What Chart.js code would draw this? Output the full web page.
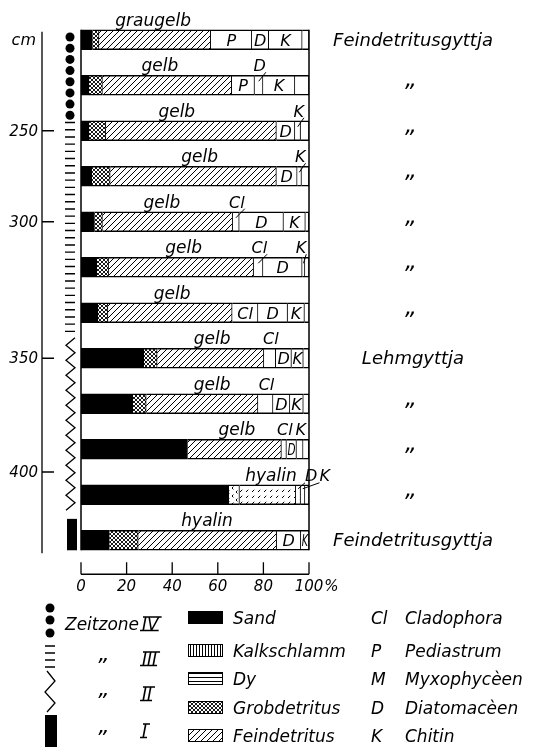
<!DOCTYPE html>
<html>
<head>
<meta charset="utf-8">
<script src="https://cdn.jsdelivr.net/npm/chart.js@4.4.1/dist/chart.umd.min.js"></script>
<style>
    html, body { margin: 0; padding: 0; background: #fff; }
    canvas { display: block; }
</style>
</head>
<body>
<canvas id="profileChart" width="538" height="747"></canvas>
<script>
// samples top to bottom, composition in %
const samples = ['Probe 1', 'Probe 2', 'Probe 3', 'Probe 4', 'Probe 5', 'Probe 6', 'Probe 7', 'Probe 8', 'Probe 9', 'Probe 10', 'Probe 11', 'Probe 12'];
const sand       = [5.0, 3.5, 3.5, 4.7, 5.9, 6.9, 7.4, 27.5, 22.7, 46.7, 64.8, 12.4];
const grob       = [2.9, 5.9, 7.4, 8.1, 3.5, 5.2, 4.4, 5.9, 5.9, 0, 4.7, 12.7];
const fein       = [49.0, 56.7, 74.8, 72.9, 57.1, 63.6, 54.5, 46.8, 49.0, 41.2, 24.7, 60.7];
const cladophora = [0, 0, 0, 0, 2.9, 4.1, 11.3, 5.2, 6.6, 2.2, 0, 0];
const pediastrum = [18.0, 10.0, 0, 0, 0, 0, 0, 0, 0, 0, 0, 0];
const diatomeen  = [7.4, 3.7, 8.1, 9.1, 19.4, 17.2, 13.0, 6.9, 7.4, 4.4, 2.1, 10.6];
const chitin     = [14.7, 14.0, 2.5, 1.9, 9.6, 1.2, 7.4, 5.2, 5.9, 2.9, 1.9, 3.6];
const rest       = [3.0, 6.2, 3.7, 3.3, 1.5, 1.8, 2.1, 2.5, 2.5, 2.5, 1.8, 0];

const tint   = ['graugelb', 'gelb', 'gelb', 'gelb', 'gelb', 'gelb', 'gelb', 'gelb', 'gelb', 'gelb', 'hyalin', 'hyalin'];
const tintAt = [31.6, 34.6, 42, 52, 35.5, 45, 40, 57.5, 57.5, 68.4, 83.3, 55.3];
const DITTO = '\u201E';
const gyttja = ['Feindetritusgyttja', DITTO, DITTO, DITTO, DITTO, DITTO, DITTO, 'Lehmgyttja', DITTO, DITTO, DITTO, 'Feindetritusgyttja'];
const faint = [10]; // hyalin sample, detritus drawn faint

const depthTicks = [250, 300, 350, 400];
const depthAt    = [2, 4, 7, 9.5];
const xTicks     = [0, 20, 40, 60, 80, 100];

// Zeitzonen along the profile, in sample rows
const zoneNames = ['IV', 'III', 'II', 'I'];
const zoneFrom  = [-0.06, 1.82, 6.55, 10.53];
const zoneTo    = [1.66, 6.45, 10.44, 11.22];

// labels written above the bar: [sample, letter, tick, shift]
const raisedLabels = [
    [1, 'D', true, 0], [2, 'K', true, 0], [3, 'K', true, 0], [4, 'Cl', true, 0],
    [5, 'Cl', true, 0], [5, 'K', true, 0], [7, 'Cl', false, 0], [8, 'Cl', false, 0],
    [9, 'Cl', false, 0], [9, 'K', false, 0], [10, 'D', false, 12], [10, 'K', false, 21]
];

const materials = ['Sand', 'Kalkschlamm', 'Dy', 'Grobdetritus', 'Feindetritus'];
const abbrevs   = ['Cl', 'P', 'M', 'D', 'K'];
const organisms = ['Cladophora', 'Pediastrum', 'Myxophycèen', 'Diatomacèen', 'Chitin'];

const canvas = document.getElementById('profileChart');
const mainCtx = canvas.getContext('2d');

function makePattern(w, h, draw) {
    const c = document.createElement('canvas');
    c.width = w;
    c.height = h;
    const g = c.getContext('2d');
    g.fillStyle = '#fff';
    g.fillRect(0, 0, w, h);
    g.strokeStyle = '#000';
    g.fillStyle = '#000';
    g.lineWidth = 1;
    draw(g, w, h);
    return mainCtx.createPattern(c, 'repeat');
}

function diagonals(g, s, up, down) {
    g.beginPath();
    if (up) {
        g.moveTo(0, s); g.lineTo(s, 0);
        g.moveTo(-s / 2, s / 2); g.lineTo(s / 2, -s / 2);
        g.moveTo(s / 2, s * 1.5); g.lineTo(s * 1.5, s / 2);
    }
    if (down) {
        g.moveTo(0, 0); g.lineTo(s, s);
        g.moveTo(-s / 2, s / 2); g.lineTo(s / 2, s * 1.5);
        g.moveTo(s / 2, -s / 2); g.lineTo(s * 1.5, s / 2);
    }
    g.stroke();
}

const hatch = makePattern(6, 6, g => diagonals(g, 6, true, false));
const cross = makePattern(4, 4, g => { g.lineWidth = 0.9; diagonals(g, 4, true, true); });
const hatchFaint = makePattern(12, 12, g => {
    g.setLineDash([3.2, 5.3]);
    g.beginPath();
    g.moveTo(0, 12); g.lineTo(12, 0);
    g.moveTo(0, 6); g.lineTo(6, 0);
    g.moveTo(6, 12); g.lineTo(12, 6);
    g.stroke();
});
const crossFaint = makePattern(8, 8, g => { g.setLineDash([2, 3.66]); diagonals(g, 8, true, true); });
const kalk = makePattern(3, 1, g => g.fillRect(1, 0, 1, 1));
const dy = makePattern(1, 4, g => g.fillRect(0, 1, 1, 1));

function layer(label, data, bg, code) {
    return {
        label: label,
        code: code,
        data: data,
        backgroundColor: bg,
        borderColor: '#000',
        borderWidth: { top: 1.5, bottom: 1.5, left: 0, right: 1 },
        borderSkipped: false,
        barThickness: 20
    };
}

function font(size) {
    return 'italic ' + size + 'px "DejaVu Sans", sans-serif';
}

function text(ctx, s, x, y, size, align, maxW) {
    ctx.font = font(size);
    ctx.textAlign = align || 'left';
    ctx.textBaseline = 'alphabetic';
    ctx.fillStyle = '#000';
    if (maxW) ctx.fillText(s, x, y, maxW);
    else ctx.fillText(s, x, y);
}

function numeral(ctx, s, x, y) {
    text(ctx, s, x, y, 17, 'left');
    const w = ctx.measureText(s).width;
    ctx.lineWidth = 1.3;
    ctx.beginPath();
    ctx.moveTo(x + 1, y - 13); ctx.lineTo(x + w + 3, y - 13);
    ctx.moveTo(x - 2, y + 0.5); ctx.lineTo(x + w, y + 0.5);
    ctx.stroke();
}

const profilePlugin = {
    id: 'profile',
    afterDatasetsDraw(chart) {
        const ctx = chart.ctx;
        const xs = chart.scales.x, ys = chart.scales.y;
        const x0 = xs.getPixelForValue(0), x1 = xs.getPixelForValue(100);
        const rowY = v => ys.getPixelForValue(v);
        const top = rowY(0) - 10, bot = rowY(samples.length - 1) + 10;
        ctx.save();
        ctx.strokeStyle = '#000';
        ctx.fillStyle = '#000';

        // frame
        ctx.lineWidth = 1.5;
        ctx.beginPath();
        ctx.moveTo(x0, top); ctx.lineTo(x0, bot);
        ctx.moveTo(x1, top); ctx.lineTo(x1, bot);
        ctx.stroke();

        // letters in the boxes
        chart.data.datasets.forEach((ds, di) => {
            if (!ds.code) return;
            const meta = chart.getDatasetMeta(di);
            ds.data.forEach((v, i) => {
                if (!v) return;
                const el = meta.data[i];
                const left = Math.min(el.x, el.base), right = Math.max(el.x, el.base);
                const cx = (left + right) / 2;
                const raised = raisedLabels.find(r => r[0] === i && r[1] === ds.code);
                if (!raised) {
                    text(ctx, ds.code, cx, el.y + 6, 16, 'center', right - left - 2);
                    return;
                }
                const ty = el.y - 14;
                let tx = cx + 1;
                if (raised[3]) tx = cx + 1 + raised[3];
                else tx = Math.min(tx, x1 - 8);
                text(ctx, ds.code, tx, ty, 16, 'center');
                ctx.lineWidth = 1;
                ctx.beginPath();
                if (raised[2]) {
                    const w = ctx.measureText(ds.code).width;
                    ctx.moveTo(tx + w / 2, ty + 1);
                    ctx.lineTo(cx, el.y - 4);
                    ctx.stroke();
                } else if (raised[3]) {
                    const w = ctx.measureText(ds.code).width;
                    ctx.moveTo(tx - w / 2, ty + 2);
                    ctx.lineTo(cx, el.y - 6);
                    ctx.stroke();
                }
            });
        });

        // colour of the sample, above each bar
        tint.forEach((t, i) => {
            text(ctx, t, xs.getPixelForValue(tintAt[i]), rowY(i) - 14, 17, 'center');
        });

        // sediment type, right column
        gyttja.forEach((g, i) => {
            if (g === DITTO) text(ctx, g, 411, rowY(i) + 1, 23, 'center');
            else text(ctx, g, 413, rowY(i) + 6, 18, 'center');
        });

        // depth axis
        const ax = 42;
        ctx.lineWidth = 1.3;
        ctx.beginPath();
        ctx.moveTo(ax, top + 2); ctx.lineTo(ax, bot + 3);
        depthAt.forEach(v => { ctx.moveTo(ax, rowY(v)); ctx.lineTo(ax + 12, rowY(v)); });
        ctx.stroke();
        text(ctx, 'cm', ax - 6, rowY(0) + 5, 16, 'right');
        depthTicks.forEach((d, k) => text(ctx, String(d), ax - 4, rowY(depthAt[k]) + 5, 15, 'right'));

        // Zeitzonen symbols
        const zx = 70;
        zoneNames.forEach((z, k) => {
            const y0 = rowY(zoneFrom[k]), y1 = rowY(zoneTo[k]);
            if (z === 'IV') {
                const n = Math.round((y1 - y0) / 11) + 1;
                for (let j = 0; j < n; j++) {
                    ctx.beginPath();
                    ctx.arc(zx, y0 + (y1 - y0) * j / (n - 1), 4.5, 0, Math.PI * 2);
                    ctx.fill();
                }
            } else if (z === 'III') {
                ctx.lineWidth = 1.4;
                ctx.beginPath();
                for (let y = y0; y <= y1; y += 7.2) {
                    ctx.moveTo(zx - 5, y); ctx.lineTo(zx + 5, y);
                }
                ctx.stroke();
            } else if (z === 'II') {
                ctx.lineWidth = 1.3;
                ctx.beginPath();
                let j = 0;
                for (let y = y0; y <= y1; y += 7.5, j++) {
                    const x = j % 2 ? zx - 4 : zx + 5;
                    if (j === 0) ctx.moveTo(x, y); else ctx.lineTo(x, y);
                }
                ctx.stroke();
            } else {
                ctx.fillRect(zx - 3, y0, 10, y1 - y0);
            }
        });

        // percent axis
        const ay = bot + 24;
        ctx.lineWidth = 1.3;
        ctx.beginPath();
        ctx.moveTo(x0, ay); ctx.lineTo(x1, ay);
        xTicks.forEach(v => {
            const p = xs.getPixelForValue(v);
            ctx.moveTo(p, ay); ctx.lineTo(p, ay - 12);
        });
        ctx.stroke();
        xTicks.forEach(v => text(ctx, String(v), xs.getPixelForValue(v), ay + 17, 15, 'center'));
        ctx.font = font(15);
        text(ctx, '%', x1 + ctx.measureText('100').width / 2 + 1, ay + 17, 15, 'left');

        // legend: Zeitzonen
        [608, 620, 633].forEach(y => { ctx.beginPath(); ctx.arc(50, y, 4.5, 0, Math.PI * 2); ctx.fill(); });
        ctx.lineWidth = 1.3;
        ctx.beginPath();
        [646, 653, 660, 667].forEach(y => { ctx.moveTo(45, y); ctx.lineTo(55, y); });
        ctx.stroke();
        ctx.beginPath();
        ctx.moveTo(47, 671); ctx.lineTo(55, 681); ctx.lineTo(45, 692); ctx.lineTo(55, 703); ctx.lineTo(47, 712);
        ctx.stroke();
        ctx.fillRect(45, 715, 12, 32);
        text(ctx, 'Zeitzone', 65, 630, 17, 'left');
        const zoneRows = [630, 665, 700, 737];
        zoneNames.forEach((z, k) => {
            if (k > 0) text(ctx, DITTO, 104, zoneRows[k] - 4, 22, 'center');
            numeral(ctx, z, 142, zoneRows[k]);
        });

        // legend: materials
        const rows = [624, 657, 685, 714, 742];
        const swatch = [ '#000', kalk, dy, cross, hatch ];
        materials.forEach((m, k) => {
            ctx.fillStyle = swatch[k];
            ctx.fillRect(188, rows[k] - 13, 35, 13);
            ctx.lineWidth = 1;
            ctx.strokeRect(188.5, rows[k] - 12.5, 34, 12);
            text(ctx, m, 233, rows[k], 17, 'left');
        });

        // legend: organisms
        abbrevs.forEach((a, k) => {
            text(ctx, a, 371, rows[k], 17, 'left');
            text(ctx, organisms[k], 405, rows[k], 17, 'left');
        });

        ctx.restore();
    }
};

new Chart(canvas, {
    type: 'bar',
    data: {
        labels: samples,
        datasets: [
            layer('Sand', sand, '#000'),
            layer('Grobdetritus', grob, samples.map((s, i) => faint.includes(i) ? crossFaint : cross)),
            layer('Feindetritus', fein, samples.map((s, i) => faint.includes(i) ? hatchFaint : hatch)),
            layer('Cladophora', cladophora, '#fff', 'Cl'),
            layer('Pediastrum', pediastrum, '#fff', 'P'),
            layer('Diatomacèen', diatomeen, '#fff', 'D'),
            layer('Chitin', chitin, '#fff', 'K'),
            layer('Rest', rest, '#fff')
        ]
    },
    options: {
        indexAxis: 'y',
        responsive: false,
        animation: false,
        events: [],
        layout: {
            padding: { left: 81, right: 229, top: 17, bottom: 184 }
        },
        scales: {
            x: { type: 'linear', min: 0, max: 100, stacked: true, display: false },
            y: { stacked: true, display: false }
        },
        plugins: {
            legend: { display: false },
            tooltip: { enabled: false }
        }
    },
    plugins: [profilePlugin]
});
</script>
</body>
</html>
